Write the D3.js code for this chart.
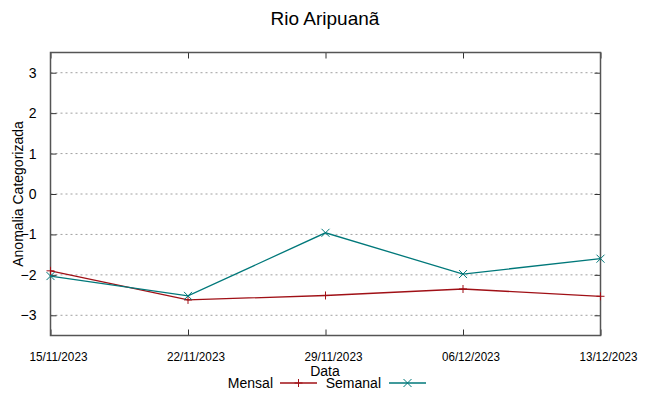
<!DOCTYPE html>
<html lang="en">
<head>
<meta charset="UTF-8">
<title>Rio Aripuanã</title>
<style>
  body { margin: 0; background: #fff; }
  text { font-family: "Liberation Sans", Arial, sans-serif; fill: #000; }
</style>
</head>
<body>
<div id="chart"></div>
<script src="https://d3js.org/d3.v7.min.js"></script>
<script>
// data
const dates = ["15/11/2023", "22/11/2023", "29/11/2023", "06/12/2023", "13/12/2023"];
const mensal = [-1.90, -2.62, -2.51, -2.35, -2.53];
const semanal = [-2.03, -2.52, -0.96, -1.98, -1.60];
const yTicks = [-3, -2, -1, 0, 1, 2, 3];

const W = 649, H = 396;
const margin = { top: 52.5, right: 48.5, bottom: 60.5, left: 50.5 };

const parse = d3.timeParse("%d/%m/%Y");
const dateVals = dates.map(parse);

const svg = d3.select("#chart").append("svg")
  .attr("width", W).attr("height", H);

const x = d3.scaleTime()
  .domain(d3.extent(dateVals))
  .range([margin.left, W - margin.right]);

const y = d3.scaleLinear()
  .domain([-3.5, 3.5])
  .range([H - margin.bottom, margin.top]);

// grid (dotted)
svg.append("g")
  .selectAll("line")
  .data(yTicks)
  .join("line")
  .attr("x1", margin.left).attr("x2", W - margin.right)
  .attr("y1", d => y(d)).attr("y2", d => y(d))
  .attr("stroke", "#a0a0a0")
  .attr("stroke-width", 1)
  .attr("stroke-dasharray", "2,3");

// axes - gnuplot style, ticks inside and mirrored
const fmt = d3.timeFormat("%d/%m/%Y");
const xAxis = d3.axisBottom(x).tickValues(dateVals).tickFormat(fmt).tickSizeInner(-6).tickSizeOuter(0);
const gx = svg.append("g")
  .attr("transform", `translate(0, ${H - margin.bottom})`)
  .call(xAxis);
gx.select(".domain").remove();
gx.selectAll("line").attr("stroke", "#333");
gx.selectAll("text")
  .attr("x", 7.5).attr("y", 25.5).attr("dy", null)
  .attr("font-size", "13.5px").style("font-family", "Liberation Sans, Arial, sans-serif")
  .attr("textLength", 58).attr("lengthAdjust", "spacingAndGlyphs");

const gxTop = svg.append("g")
  .attr("transform", `translate(0, ${margin.top})`)
  .call(d3.axisTop(x).tickValues(dateVals).tickFormat("").tickSizeInner(-6).tickSizeOuter(0));
gxTop.select(".domain").remove();
gxTop.selectAll("line").attr("stroke", "#333");

const yAxis = d3.axisLeft(y).tickValues(yTicks).tickFormat(d3.format("d")).tickSizeInner(-6).tickSizeOuter(0).tickPadding(14);
const gy = svg.append("g")
  .attr("transform", `translate(${margin.left}, 0)`)
  .call(yAxis);
gy.select(".domain").remove();
gy.selectAll("line").attr("stroke", "#333");
gy.selectAll("text").attr("font-size", "14px").style("font-family", "Liberation Sans, Arial, sans-serif");

const gyR = svg.append("g")
  .attr("transform", `translate(${W - margin.right}, 0)`)
  .call(d3.axisRight(y).tickValues(yTicks).tickFormat("").tickSizeInner(-6).tickSizeOuter(0));
gyR.select(".domain").remove();
gyR.selectAll("line").attr("stroke", "#333");

// border
svg.append("rect")
  .attr("x", margin.left).attr("y", margin.top)
  .attr("width", W - margin.left - margin.right)
  .attr("height", H - margin.top - margin.bottom)
  .attr("fill", "none")
  .attr("stroke", "#555")
  .attr("stroke-width", 1.5);

// series
const series = [
  { name: "Mensal", values: mensal, color: "#a01016", marker: "plus" },
  { name: "Semanal", values: semanal, color: "#00787a", marker: "cross" }
];

const line = d3.line().x(d => x(d[0])).y(d => y(d[1]));

function marker(g, cx, cy, type, color) {
  const s = 4;
  const p = d3.path();
  if (type === "plus") {
    p.moveTo(cx - s, cy); p.lineTo(cx + s, cy);
    p.moveTo(cx, cy - s); p.lineTo(cx, cy + s);
  } else {
    p.moveTo(cx - s, cy - s); p.lineTo(cx + s, cy + s);
    p.moveTo(cx - s, cy + s); p.lineTo(cx + s, cy - s);
  }
  g.append("path").attr("d", p.toString()).attr("stroke", color).attr("stroke-width", 1).attr("fill", "none");
}

series.forEach(s => {
  const pts = dateVals.map((d, i) => [d, s.values[i]]);
  svg.append("path")
    .datum(pts)
    .attr("d", line)
    .attr("fill", "none")
    .attr("stroke", s.color)
    .attr("stroke-width", 1.3);
  const gm = svg.append("g");
  pts.forEach(p => marker(gm, x(p[0]), y(p[1]), s.marker, s.color));
});

// title
svg.append("text")
  .attr("x", 325).attr("y", 25)
  .attr("text-anchor", "middle")
  .attr("font-size", "19px")
  .text("Rio Aripuanã");

// axis labels
svg.append("text")
  .attr("x", 325).attr("y", 376)
  .attr("text-anchor", "middle")
  .attr("font-size", "14px")
  .text("Data");

svg.append("text")
  .attr("transform", `translate(23, ${(margin.top + H - margin.bottom) / 2}) rotate(-90)`)
  .attr("text-anchor", "middle")
  .attr("font-size", "14px")
  .text("Anomalia Categorizada");

// legend
const legend = [
  { name: "Mensal", textX: 273, lineX: 280, color: "#a01016", marker: "plus" },
  { name: "Semanal", textX: 381, lineX: 389, color: "#00787a", marker: "cross" }
];
const ly = 383;
legend.forEach(l => {
  svg.append("text")
    .attr("x", l.textX).attr("y", ly + 5)
    .attr("text-anchor", "end")
    .attr("font-size", "14px")
    .text(l.name);
  svg.append("line")
    .attr("x1", l.lineX).attr("x2", l.lineX + 37)
    .attr("y1", ly).attr("y2", ly)
    .attr("stroke", l.color).attr("stroke-width", 1.3);
  marker(svg, l.lineX + 18.5, ly, l.marker, l.color);
});
</script>
</body>
</html>
